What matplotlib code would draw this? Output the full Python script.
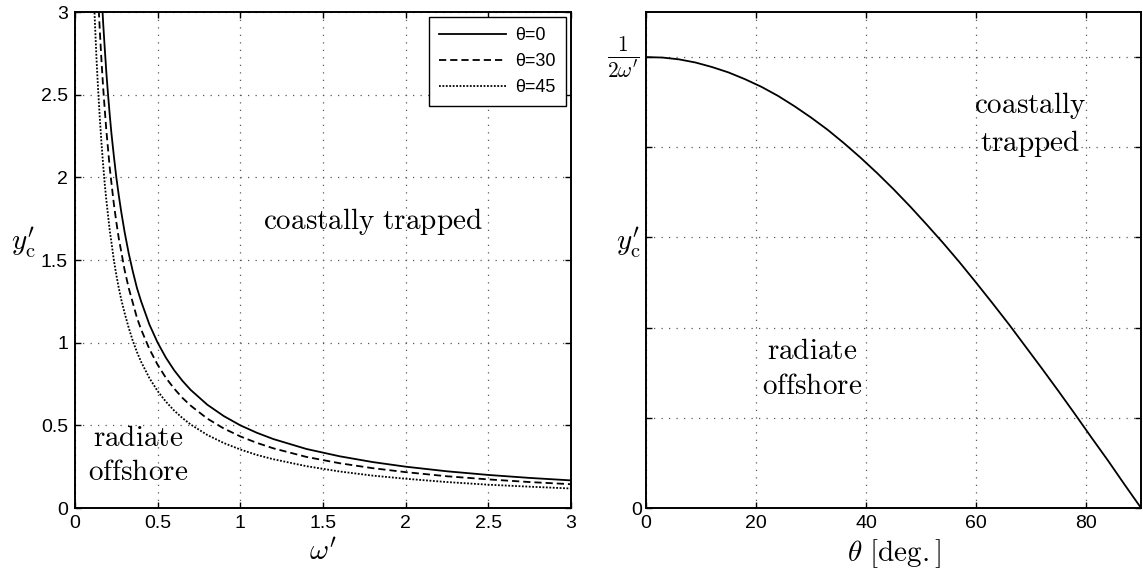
import matplotlib
matplotlib.use('Agg')
import matplotlib.pyplot as plt
import matplotlib.transforms as mtransforms
import numpy as np

plt.rcParams['font.family'] = ['Liberation Sans', 'DejaVu Sans']
plt.rcParams['mathtext.fontset'] = 'cm'
plt.rcParams['axes.linewidth'] = 1.4

# critical offshore distance vs frequency, for three wave angles
omega = [0.10, 0.11, 0.12, 0.13, 0.14, 0.15, 0.16, 0.17, 0.18, 0.19, 0.2, 0.21, 0.22, 0.235,
         0.25, 0.265, 0.28, 0.3, 0.325, 0.35, 0.375, 0.4, 0.45, 0.5, 0.55,
         0.6, 0.65, 0.7, 0.8, 0.9, 1.0, 1.1, 1.2, 1.4, 1.6, 1.8, 2.0, 2.25, 2.5, 2.75, 3.0]
yc_th0 = [5.00, 4.55, 4.17, 3.85, 3.57, 3.33, 3.13, 2.94, 2.78, 2.63, 2.50, 2.38, 2.27, 2.13,
          2.00, 1.89, 1.79, 1.67, 1.54, 1.43, 1.33, 1.25, 1.11, 1.00, 0.909,
          0.833, 0.769, 0.714, 0.625, 0.556, 0.500, 0.455, 0.417, 0.357, 0.313, 0.278, 0.250, 0.222, 0.200, 0.182, 0.167]
yc_th30 = [4.33, 3.94, 3.61, 3.33, 3.09, 2.89, 2.71, 2.55, 2.41, 2.28, 2.17, 2.06, 1.97, 1.84,
           1.73, 1.63, 1.55, 1.44, 1.33, 1.24, 1.15, 1.08, 0.962, 0.866, 0.787,
           0.722, 0.666, 0.619, 0.541, 0.481, 0.433, 0.394, 0.361, 0.309, 0.271, 0.241, 0.217, 0.192, 0.173, 0.157, 0.144]
yc_th45 = [3.54, 3.21, 2.95, 2.72, 2.53, 2.36, 2.21, 2.08, 1.96, 1.86, 1.77, 1.68, 1.61, 1.50,
           1.41, 1.33, 1.26, 1.18, 1.09, 1.01, 0.943, 0.884, 0.786, 0.707, 0.643,
           0.589, 0.544, 0.505, 0.442, 0.393, 0.354, 0.321, 0.295, 0.253, 0.221, 0.196, 0.177, 0.157, 0.141, 0.129, 0.118]

# critical distance vs angle, in units of 1/(2 omega')
theta = [0, 3, 6, 9, 12, 15, 18, 21, 24, 27, 30, 33, 36, 39, 42, 45, 48, 51, 54, 57,
         60, 63, 66, 69, 72, 75, 78, 81, 84, 87, 90]
yc_theta = [1.0, 0.999, 0.995, 0.988, 0.978, 0.966, 0.951, 0.934, 0.914, 0.891, 0.866,
            0.839, 0.809, 0.777, 0.743, 0.707, 0.669, 0.629, 0.588, 0.545, 0.5, 0.454,
            0.407, 0.358, 0.309, 0.259, 0.208, 0.156, 0.105, 0.052, 0.0]

fig = plt.figure(figsize=(11.43, 5.75), dpi=100)
ax1 = fig.add_axes([0.0656, 0.1165, 0.434, 0.8626])
ax2 = fig.add_axes([0.5652, 0.1165, 0.4331, 0.8626])

ax1.plot(omega, yc_th0, '-', color='k', lw=1.3, label=u'\u03b8=0')
ax1.plot(omega, yc_th30, '--', color='k', lw=1.3, dashes=(4, 2.2), label=u'\u03b8=30')
ax1.plot(omega, yc_th45, ':', color='k', lw=1.3, dashes=(1, 0.9), label=u'\u03b8=45')
ax1.set_xlim(0, 3)
ax1.set_ylim(0, 3)
ax1.set_xticks(np.arange(0, 3.01, 0.5))
ax1.set_yticks(np.arange(0, 3.01, 0.5))
ax1.set_xticklabels(['0', '0.5', '1', '1.5', '2', '2.5', '3'])
ax1.set_yticklabels(['0', '0.5', '1', '1.5', '2', '2.5', '3'])
ax1.set_xlabel(r"$\omega'$", fontsize=21, labelpad=4)
ax1.set_ylabel(r"$y_{\rm c}'$", fontsize=21, rotation=0)
ax1.yaxis.set_label_coords(-0.105, 0.5)
leg = ax1.legend(loc='upper right', fontsize=13, fancybox=False, framealpha=1,
                 edgecolor='k', handlelength=3.7, borderaxespad=0.3, labelspacing=0.5,
                 handletextpad=0.5, borderpad=0.55)
leg.get_frame().set_linewidth(1.0)
ax1.text(1.8, 1.73, r'$\mathrm{coastally\ trapped}$', fontsize=21, ha='center', va='center')
ax1.text(0.38, 0.32, r'$\mathrm{radiate}$' + '\n' + r'$\mathrm{offshore}$', fontsize=21,
         ha='center', va='center', linespacing=1.3)

ax2.plot(theta, yc_theta, '-', color='k', lw=1.3)
ax2.set_xlim(0, 90)
ax2.set_ylim(0, 1.1)
ax2.set_xticks([0, 20, 40, 60, 80])
ax2.set_yticks([0, 0.2, 0.4, 0.6, 0.8, 1.0])
ax2.set_yticklabels(['0', '', '', '', '', ''])
# the top tick is labelled 1/(2w') as a larger fraction
trans = mtransforms.blended_transform_factory(ax2.transAxes, ax2.transData)
ax2.text(-0.012, yc_theta[0], r"$\frac{1}{2\omega'}$", transform=trans, fontsize=22,
         ha='right', va='center')
ax2.set_xlabel(r'$\theta\ [\mathrm{deg.}]$', fontsize=21, labelpad=4)
ax2.set_ylabel(r"$y_{\rm c}'$", fontsize=21, rotation=0)
ax2.yaxis.set_label_coords(-0.035, 0.5)
ax2.text(69.8, 0.85, r'$\mathrm{coastally}$' + '\n' + r'$\mathrm{trapped}$', fontsize=21,
         ha='center', va='center', linespacing=1.3)
ax2.text(30.2, 0.31, r'$\mathrm{radiate}$' + '\n' + r'$\mathrm{offshore}$', fontsize=21,
         ha='center', va='center', linespacing=1.3)

for ax in (ax1, ax2):
    ax.grid(True, color='0.35', linestyle=(0, (1, 5)), linewidth=0.9)
    ax.tick_params(direction='in', top=True, right=True, length=4, width=1.0,
                   labelsize=14, pad=5)
ax2.tick_params(axis='y', pad=3)

fig.savefig('out.png', dpi=100)
